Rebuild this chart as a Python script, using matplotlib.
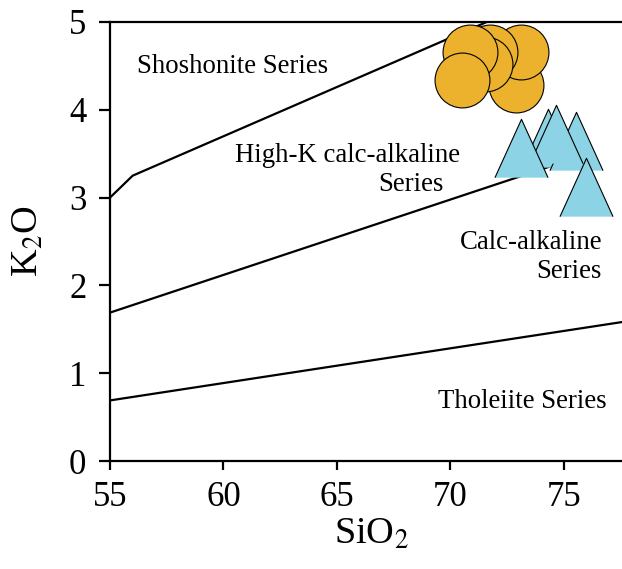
import matplotlib
matplotlib.use("Agg")
import matplotlib.pyplot as plt

plt.rcParams["font.family"] = ["Liberation Serif", "DejaVu Serif"]
plt.rcParams["mathtext.fontset"] = "stix"

# series boundaries (SiO2, K2O)
shosh_x = [55.0, 56.0, 71.6]
shosh_y = [3.0, 3.25, 5.0]
hk_x = [55.0, 75.5]
hk_y = [1.69, 3.45]
ca_x = [55.0, 78.0]
ca_y = [0.69, 1.60]

# samples, listed in drawing order
circ_sio2 = [72.89, 73.13, 71.76, 71.54, 70.87, 70.51]
circ_k2o = [4.28, 4.66, 4.66, 4.52, 4.66, 4.34]
tri_sio2 = [74.31, 75.53, 74.65, 73.11, 75.99]
tri_k2o = [3.68, 3.65, 3.72, 3.57, 3.12]

fig = plt.figure(figsize=(6.22, 5.69), dpi=100)
ax = fig.add_axes([110 / 622, 108 / 569, 522 / 622, 439 / 569])

for bx, by in [(shosh_x, shosh_y), (hk_x, hk_y), (ca_x, ca_y)]:
    ax.plot(bx, by, color="black", lw=1.6, zorder=2)

tri = [(-0.91, -1.0), (0.0, 1.0), (0.91, -1.0)]
for x, y in zip(circ_sio2, circ_k2o):
    ax.plot(x, y, marker="o", ms=39.5, mfc="#ECB22D", mec="black", mew=0.8,
            ls="none", zorder=3)
for x, y in zip(tri_sio2, tri_k2o):
    ax.plot(x, y, marker=tri, ms=42, mfc="#8BD3E5", mec="black", mew=0.8,
            ls="none", zorder=3)

# field names
fs = 19.3
ax.text(56.2, 4.42, "Shoshonite Series", fontsize=fs, ha="left")
ax.text(70.4, 3.41, "High-K calc-alkaline", fontsize=fs, ha="right")
ax.text(69.7, 3.07, "Series", fontsize=fs, ha="right")
ax.text(76.7, 2.42, "Calc-alkaline", fontsize=fs, ha="right")
ax.text(76.65, 2.08, "Series", fontsize=fs, ha="right")
ax.text(76.9, 0.604, "Tholeiite Series", fontsize=fs, ha="right")

ax.set_xlim(55, 78)
ax.set_ylim(0, 5)
ax.set_xticks([55, 60, 65, 70, 75])
ax.set_yticks([0, 1, 2, 3, 4, 5])
ax.tick_params(direction="out", width=1.6, labelsize=25)
ax.tick_params(axis="y", length=8, pad=9)
ax.tick_params(axis="x", length=6.5, pad=8)
for side in ["left", "bottom", "top"]:
    ax.spines[side].set_linewidth(1.6)
ax.spines["right"].set_visible(False)

ax.set_xlabel("SiO$_2$", fontsize=27.5, labelpad=2)
ax.set_ylabel("K$_2$O", fontsize=27.5, labelpad=17)

fig.savefig("out.png", dpi=100)
